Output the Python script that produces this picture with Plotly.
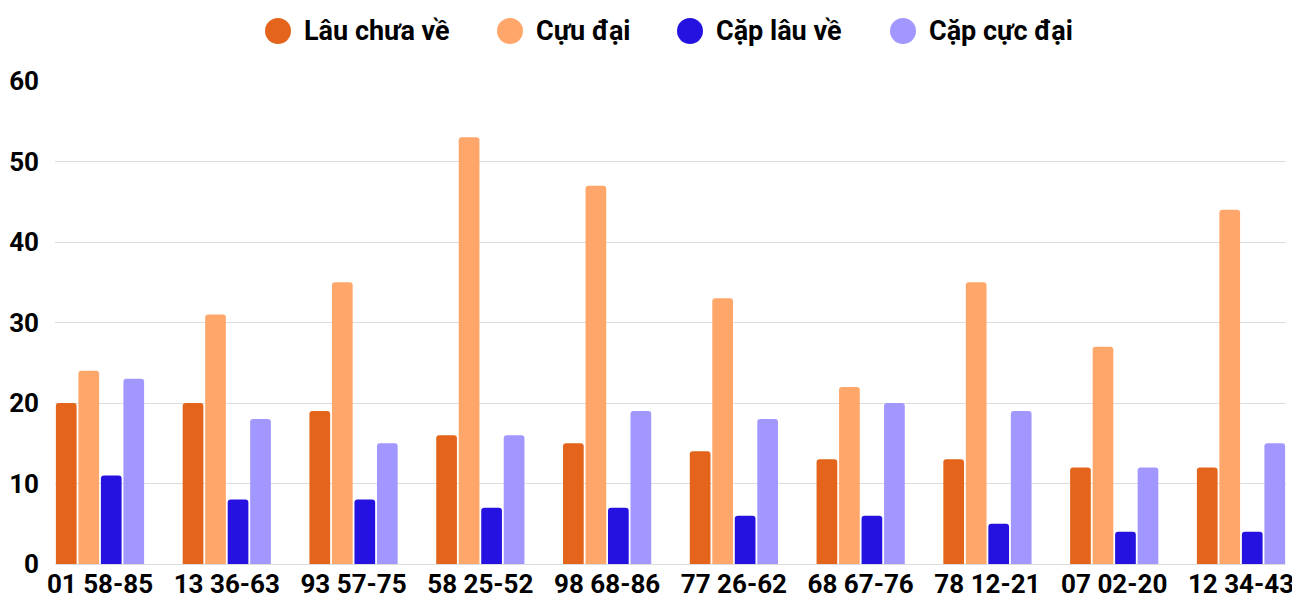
import plotly.graph_objects as go

categories = ["01 58-85", "13 36-63", "93 57-75", "58 25-52", "98 68-86",
              "77 26-62", "68 67-76", "78 12-21", "07 02-20", "12 34-43"]
series_names = ["Lâu chưa về", "Cựu đại", "Cặp lâu về", "Cặp cực đại"]
lau_chua_ve = [20, 20, 19, 16, 15, 14, 13, 13, 12, 12]
cuu_dai = [24, 31, 35, 53, 47, 33, 22, 35, 27, 44]
cap_lau_ve = [11, 8, 8, 7, 7, 6, 6, 5, 4, 4]
cap_cuc_dai = [23, 18, 15, 16, 19, 18, 20, 19, 12, 15]
colors = ["#E3641A", "#FFA66A", "#2512E0", "#A197FF"]
y_ticks = [0, 10, 20, 30, 40, 50, 60]

FONT = "Roboto"
OFF = 8  # page body margin
W, H = 1300 - OFF, 600 - OFF
ML, MR, MT, MB = 55 - OFF, 14, 81 - OFF, 36
PW, PH = W - ML - MR, H - MT - MB

fig = go.Figure()
for name, vals, col in zip(series_names, [lau_chua_ve, cuu_dai, cap_lau_ve, cap_cuc_dai], colors):
    fig.add_trace(go.Bar(x=categories, y=vals, name=name, marker_color=col,
                         marker_line_width=0, showlegend=False))

# custom legend (circle symbols), positions in screenshot pixels
legend_circles_px = [278, 510, 690, 903]
legend_y_px = 31
shapes = []
annotations = []
for cx, name, col in zip(legend_circles_px, series_names, colors):
    xp = (cx - OFF - ML) / PW
    yp = (H - MB - (legend_y_px - OFF)) / PH
    shapes.append(dict(type="circle", xref="paper", yref="paper",
                       xsizemode="pixel", ysizemode="pixel",
                       xanchor=xp, yanchor=yp, x0=-13, x1=13, y0=-13, y1=13,
                       fillcolor=col, line_width=0))
    annotations.append(dict(text=name, xref="paper", yref="paper",
                            x=(cx + 24 - OFF - ML) / PW, y=yp, xanchor="left", yanchor="middle",
                            showarrow=False,
                            font=dict(family=FONT, size=27, color="#000", weight="bold")))

fig.update_layout(
    width=W, height=H,
    margin=dict(l=ML, r=MR, t=MT, b=MB, pad=0),
    paper_bgcolor="white", plot_bgcolor="white",
    barmode="group", bargap=0.29, bargroupgap=0.08,
    barcornerradius=3,
    shapes=shapes, annotations=annotations,
    font=dict(family=FONT, size=24, color="#000"),
)
fig.update_xaxes(range=[-0.355, 9.355], showgrid=False, showline=False, automargin=False,
                 ticks="", tickfont=dict(family=FONT, size=26, weight="bold", color="#000"),
                 ticklabelstandoff=2)
fig.update_yaxes(range=[0, 60], tickvals=y_ticks, showgrid=True, gridcolor="#dddddd",
                 gridwidth=1, zeroline=True, zerolinecolor="#dddddd", zerolinewidth=1,
                 automargin=False,
                 ticks="", tickfont=dict(family=FONT, size=26, weight="bold", color="#000"),
                 ticklabelstandoff=15)

fig.write_html("out.html")
